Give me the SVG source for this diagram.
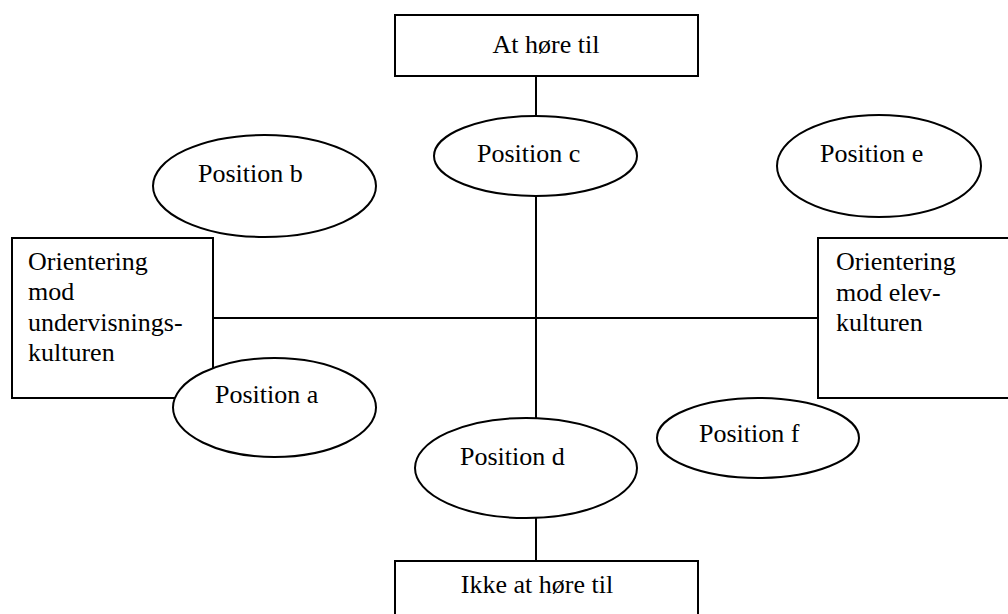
<svg xmlns="http://www.w3.org/2000/svg" width="1008" height="614" viewBox="0 0 1008 614">
<style>
.n{fill:#fff;stroke:#000;stroke-width:2}
.c{stroke:#000;stroke-width:2;fill:none}
.t{font-family:'Liberation Serif','DejaVu Serif','Noto Serif',Tinos,Times,serif;font-size:26px;fill:#000}
</style>
<rect width="1008" height="614" fill="#fff"/>
<g id="connectors">
<line class="c" x1="536" y1="76" x2="536" y2="118"/>
<line class="c" x1="536" y1="194" x2="536" y2="420"/>
<line class="c" x1="213" y1="318" x2="818" y2="318"/>
<line class="c" x1="536" y1="516" x2="536" y2="561"/>
</g>
<g class="t">
<g id="top"><rect class="n" x="395" y="15" width="303" height="61"/><text x="546" y="53" text-anchor="middle">At høre til</text></g>
<g id="left"><rect class="n" x="12" y="238" width="201" height="160"/>
<text x="28" y="270">Orientering</text><text x="28" y="300">mod</text><text x="28" y="331">undervisnings-</text><text x="28" y="361">kulturen</text></g>
<g id="right"><rect class="n" x="818" y="238" width="210" height="160"/>
<text x="836" y="270">Orientering</text><text x="836" y="301">mod elev-</text><text x="836" y="331">kulturen</text></g>
<g id="bottom"><rect class="n" x="395" y="561" width="303" height="70"/><text x="537" y="593" text-anchor="middle">Ikke at høre til</text></g>
<g id="posb"><ellipse class="n" cx="264.5" cy="186" rx="111.5" ry="51"/><text x="198" y="182">Position b</text></g>
<g id="posc"><ellipse class="n" cx="535.5" cy="156" rx="101.5" ry="40"/><text x="477" y="162">Position c</text></g>
<g id="pose"><ellipse class="n" cx="879" cy="166" rx="102" ry="51"/><text x="820" y="162">Position e</text></g>
<g id="posa"><ellipse class="n" cx="274.5" cy="407.5" rx="101.5" ry="49.5"/><text x="215" y="403">Position a</text></g>
<g id="posf"><ellipse class="n" cx="758" cy="438" rx="101" ry="40"/><text x="699" y="442">Position f</text></g>
<g id="posd"><ellipse class="n" cx="526" cy="468" rx="111" ry="50"/><text x="460" y="465">Position d</text></g>
</g>
</svg>
